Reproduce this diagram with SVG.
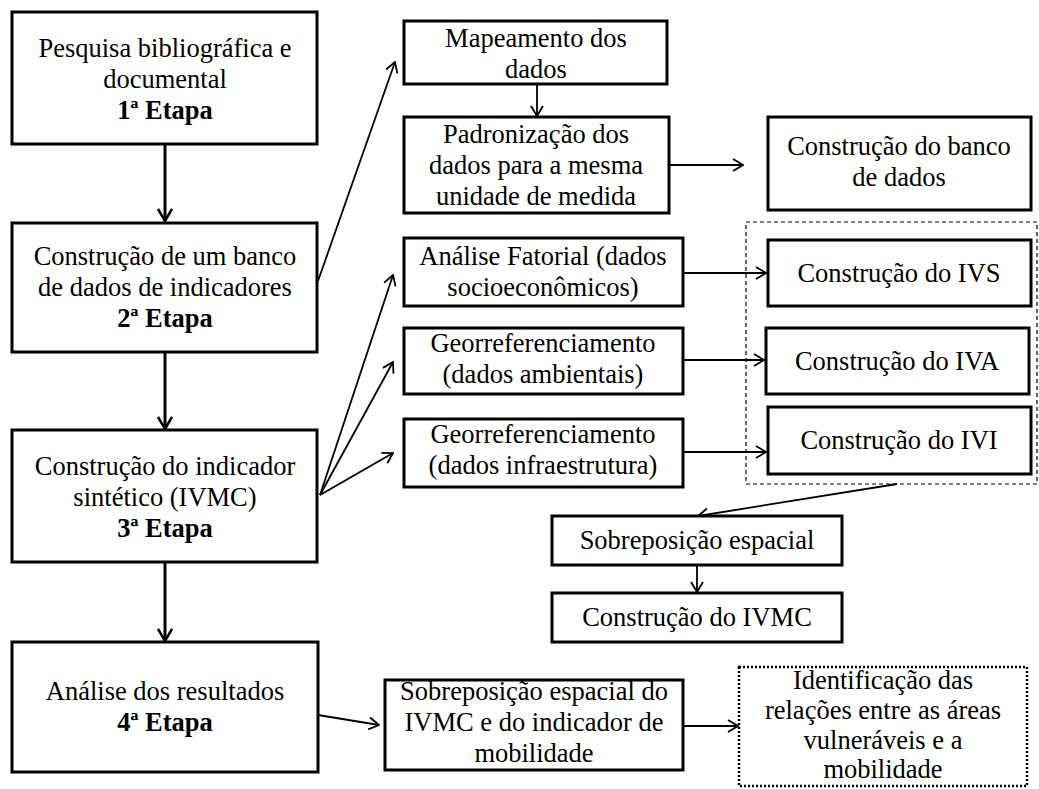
<svg xmlns="http://www.w3.org/2000/svg" width="1039" height="789" viewBox="0 0 1039 789">
<style>
.box{fill:#fff;stroke:#000;stroke-width:3}
.t{font-family:"Liberation Serif","Times New Roman",serif;font-size:26.5px;fill:#000;text-anchor:middle}
.b{font-weight:bold}
.thick{stroke:#000;stroke-width:3;fill:none}
.thin{stroke:#000;stroke-width:1.8;fill:none}
</style>
<defs>
<marker id="ah" markerUnits="userSpaceOnUse" viewBox="0 0 14 16" refX="13" refY="8" markerWidth="14" markerHeight="16" orient="auto">
<path d="M1,1 L13,8 L1,15" fill="none" stroke="#000" stroke-width="2.5"/>
</marker>
<marker id="as" markerUnits="userSpaceOnUse" viewBox="0 0 12 14" refX="11" refY="7" markerWidth="12" markerHeight="14" orient="auto">
<path d="M1,1 L11,7 L1,13" fill="none" stroke="#000" stroke-width="1.8"/>
</marker>
</defs>
<rect x="0" y="0" width="1039" height="789" fill="#fff"/>
<g id="connectors">
<line class="thick" x1="165" y1="144" x2="165" y2="221" marker-end="url(#ah)"/>
<line class="thick" x1="165" y1="352" x2="165" y2="429" marker-end="url(#ah)"/>
<line class="thick" x1="165" y1="562" x2="165" y2="641" marker-end="url(#ah)"/>
<line class="thin" x1="318" y1="281" x2="395" y2="62" marker-end="url(#as)"/>
<line class="thin" x1="537" y1="84" x2="537" y2="116" marker-end="url(#as)"/>
<line class="thin" x1="669" y1="165" x2="743" y2="165" marker-end="url(#as)"/>
<line class="thin" x1="320" y1="495" x2="393" y2="275" marker-end="url(#as)"/>
<line class="thin" x1="320" y1="495" x2="393" y2="362" marker-end="url(#as)"/>
<line class="thin" x1="320" y1="495" x2="393" y2="453" marker-end="url(#as)"/>
<line class="thin" x1="683" y1="273" x2="766" y2="273" marker-end="url(#as)"/>
<line class="thin" x1="683" y1="360" x2="764" y2="360" marker-end="url(#as)"/>
<line class="thin" x1="683" y1="452" x2="766" y2="452" marker-end="url(#as)"/>
<line class="thin" x1="897" y1="484" x2="698" y2="516" marker-end="url(#as)"/>
<line class="thin" x1="697" y1="565" x2="697" y2="592" marker-end="url(#as)"/>
<line class="thin" x1="318" y1="715" x2="379" y2="725" marker-end="url(#as)"/>
<line class="thin" x1="683" y1="726" x2="738" y2="726" marker-end="url(#as)"/>
</g>
<g id="group-indices">
<rect x="746" y="222" width="291" height="262" fill="none" stroke="#000" stroke-width="1.2" stroke-dasharray="4,3"/>
</g>
<g id="etapa1">
<rect class="box" x="12" y="12" width="305" height="132"/>
<text class="t" x="165" y="57">Pesquisa bibliográfica e</text>
<text class="t" x="165" y="88">documental</text>
<text class="t b" x="165" y="119">1ª Etapa</text>
</g>
<g id="etapa2">
<rect class="box" x="12" y="223" width="305" height="129"/>
<text class="t" x="165" y="265">Construção de um banco</text>
<text class="t" x="165" y="296">de dados de indicadores</text>
<text class="t b" x="165" y="327">2ª Etapa</text>
</g>
<g id="etapa3">
<rect class="box" x="12" y="430" width="305" height="132"/>
<text class="t" x="165" y="475">Construção do indicador</text>
<text class="t" x="165" y="506">sintético (IVMC)</text>
<text class="t b" x="165" y="537">3ª Etapa</text>
</g>
<g id="etapa4">
<rect class="box" x="12" y="642" width="306" height="130"/>
<text class="t" x="165" y="700">Análise dos resultados</text>
<text class="t b" x="165" y="731">4ª Etapa</text>
</g>
<g id="mapeamento">
<rect class="box" x="404" y="21" width="263" height="63"/>
<text class="t" x="536" y="47">Mapeamento dos</text>
<text class="t" x="536" y="78">dados</text>
</g>
<g id="padronizacao">
<rect class="box" x="404" y="117" width="265" height="96"/>
<text class="t" x="536" y="143">Padronização dos</text>
<text class="t" x="536" y="174">dados para a mesma</text>
<text class="t" x="536" y="205">unidade de medida</text>
</g>
<g id="banco">
<rect class="box" x="768" y="117" width="263" height="93"/>
<text class="t" x="899" y="155">Construção do banco</text>
<text class="t" x="899" y="186">de dados</text>
</g>
<g id="fatorial">
<rect class="box" x="404" y="238" width="279" height="68"/>
<text class="t" x="543" y="265">Análise Fatorial (dados</text>
<text class="t" x="543" y="296">socioeconômicos)</text>
</g>
<g id="georref-amb">
<rect class="box" x="404" y="328" width="279" height="66"/>
<text class="t" x="543" y="352">Georreferenciamento</text>
<text class="t" x="543" y="383">(dados ambientais)</text>
</g>
<g id="georref-infra">
<rect class="box" x="404" y="419" width="279" height="68"/>
<text class="t" x="543" y="443">Georreferenciamento</text>
<text class="t" x="543" y="474">(dados infraestrutura)</text>
</g>
<g id="ivs">
<rect class="box" x="768" y="240" width="263" height="66"/>
<text class="t" x="899" y="282">Construção do IVS</text>
</g>
<g id="iva">
<rect class="box" x="766" y="328" width="263" height="66"/>
<text class="t" x="897" y="370">Construção do IVA</text>
</g>
<g id="ivi">
<rect class="box" x="768" y="407" width="263" height="67"/>
<text class="t" x="899" y="449">Construção do IVI</text>
</g>
<g id="sobreposicao">
<rect class="box" x="552" y="516" width="290" height="49"/>
<text class="t" x="697" y="549">Sobreposição espacial</text>
</g>
<g id="ivmc">
<rect class="box" x="552" y="593" width="290" height="49"/>
<text class="t" x="697" y="626">Construção do IVMC</text>
</g>
<g id="sobreposicao-mobilidade">
<rect class="box" x="385" y="680" width="298" height="90"/>
<text class="t" x="534" y="700">Sobreposição espacial do</text>
<text class="t" x="534" y="731">IVMC e do indicador de</text>
<text class="t" x="534" y="762">mobilidade</text>
</g>
<g id="identificacao">
<rect x="739" y="667" width="288" height="119" fill="#fff" stroke="#000" stroke-width="2.5" stroke-dasharray="2,2"/>
<text class="t" x="883" y="689">Identificação das</text>
<text class="t" x="883" y="719">relações entre as áreas</text>
<text class="t" x="883" y="749">vulneráveis e a</text>
<text class="t" x="883" y="778">mobilidade</text>
</g>
</svg>
